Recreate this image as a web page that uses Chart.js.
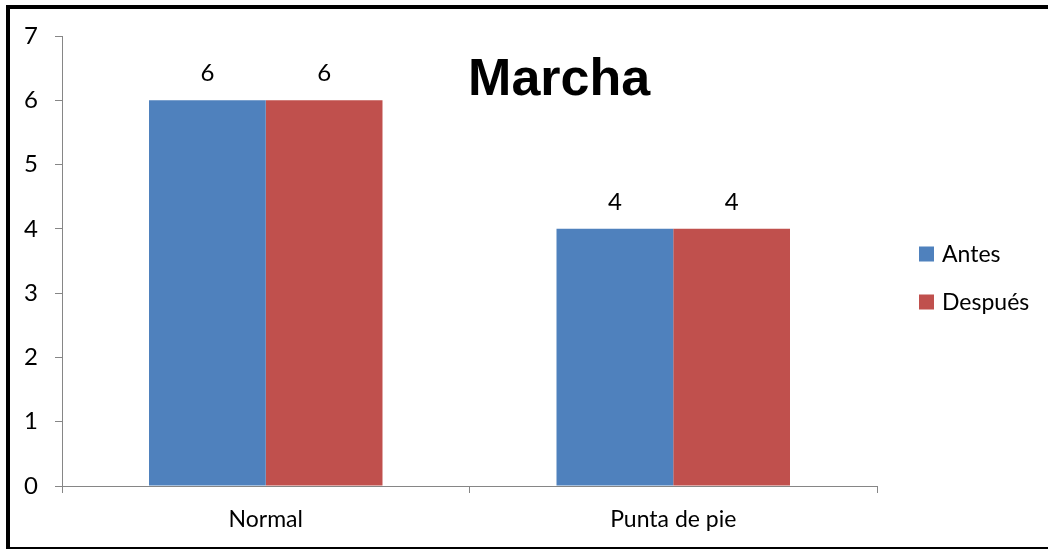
<!DOCTYPE html>
<html>
<head>
<meta charset="utf-8">
<script src="https://cdn.jsdelivr.net/npm/chart.js@4"></script>
<style>
  html, body { margin: 0; padding: 0; background: #ffffff; }
  #wrap { position: relative; width: 1048px; height: 550px; }
</style>
</head>
<body>
<div id="wrap"><canvas id="chart" width="1048" height="550"></canvas></div>
<script>
// Categories and series
const categories = ['Normal', 'Punta de pie'];
const antes = [6, 4];
const despues = [6, 4];
const seriesNames = ['Antes', 'Después'];
const seriesColors = ['#4F81BD', '#C0504D'];
const chartTitle = 'Marcha';
const yTicks = [0, 1, 2, 3, 4, 5, 6, 7];

const AXIS_GREY = '#868686';

// Frame around the whole figure
const framePlugin = {
  id: 'frame',
  afterDraw(chart) {
    const ctx = chart.ctx;
    ctx.save();
    ctx.fillStyle = '#000000';
    ctx.fillRect(6, 5, 4, 544);      // left edge
    ctx.fillRect(6, 5, 1042, 4);     // top edge
    ctx.fillRect(6, 547, 1042, 2);   // bottom edge
    ctx.restore();
  }
};

// Value labels above each bar, taken from the dataset values
const valueLabels = {
  id: 'valueLabels',
  afterDatasetsDraw(chart) {
    const ctx = chart.ctx;
    ctx.save();
    ctx.font = '24px Lato';
    ctx.fillStyle = '#000000';
    ctx.textAlign = 'center';
    ctx.textBaseline = 'alphabetic';
    chart.data.datasets.forEach((ds, i) => {
      chart.getDatasetMeta(i).data.forEach((bar, j) => {
        ctx.fillText(String(ds.data[j]), bar.x, bar.y - 19);
      });
    });
    ctx.restore();
  }
};

// Title drawn inside the plot area
const innerTitle = {
  id: 'innerTitle',
  afterDraw(chart) {
    const a = chart.chartArea;
    const ctx = chart.ctx;
    ctx.save();
    ctx.font = 'bold 52px "Liberation Sans", Arial, sans-serif';
    ctx.fillStyle = '#000000';
    ctx.textAlign = 'center';
    ctx.textBaseline = 'alphabetic';
    ctx.fillText(chartTitle, a.left + (a.right - a.left) * 0.61, a.top + 59);
    ctx.restore();
  }
};

// Series key to the right of the plot area, built from the datasets
const sideLegend = {
  id: 'sideLegend',
  afterDraw(chart) {
    const a = chart.chartArea;
    const ctx = chart.ctx;
    const x0 = a.right + 42;
    const yMid = 278;
    const step = 48;
    const n = chart.data.datasets.length;
    ctx.save();
    ctx.font = '23px Lato';
    ctx.textAlign = 'left';
    ctx.textBaseline = 'middle';
    chart.data.datasets.forEach((ds, i) => {
      const cy = yMid + (i - (n - 1) / 2) * step;
      ctx.fillStyle = ds.backgroundColor;
      ctx.fillRect(x0, cy - 7.5, 15, 15);
      ctx.fillStyle = '#000000';
      ctx.fillText(ds.label, x0 + 23, cy + 1);
    });
    ctx.restore();
  }
};

new Chart(document.getElementById('chart'), {
  type: 'bar',
  data: {
    labels: categories,
    datasets: [
      { label: seriesNames[0], data: antes, backgroundColor: seriesColors[0] },
      { label: seriesNames[1], data: despues, backgroundColor: seriesColors[1] }
    ]
  },
  plugins: [framePlugin, valueLabels, innerTitle, sideLegend],
  options: {
    responsive: false,
    animation: false,
    devicePixelRatio: 1,
    categoryPercentage: 0.573,
    barPercentage: 1.0,
    layout: { padding: { left: 0, right: 171, top: 36, bottom: 12 } },
    plugins: {
      title: { display: false },
      tooltip: { enabled: false },
      legend: { display: false }
    },
    scales: {
      x: {
        grid: {
          offset: true,
          drawOnChartArea: false,
          tickLength: 7,
          color: AXIS_GREY,
          tickColor: AXIS_GREY
        },
        border: { color: AXIS_GREY, width: 1 },
        ticks: { font: { family: 'Lato', size: 23 }, color: '#000000', padding: 13 },
        afterFit(scale) { scale.height = 52; }
      },
      y: {
        min: 0,
        max: yTicks[yTicks.length - 1],
        afterBuildTicks(scale) { scale.ticks = yTicks.map(v => ({ value: v })); },
        grid: {
          drawOnChartArea: false,
          tickLength: 7,
          color: AXIS_GREY,
          tickColor: AXIS_GREY
        },
        border: { color: AXIS_GREY, width: 1 },
        ticks: { font: { family: 'Lato', size: 24 }, color: '#000000', padding: 17 },
        afterFit(scale) { scale.width = 62; }
      }
    }
  }
});
</script>
</body>
</html>
